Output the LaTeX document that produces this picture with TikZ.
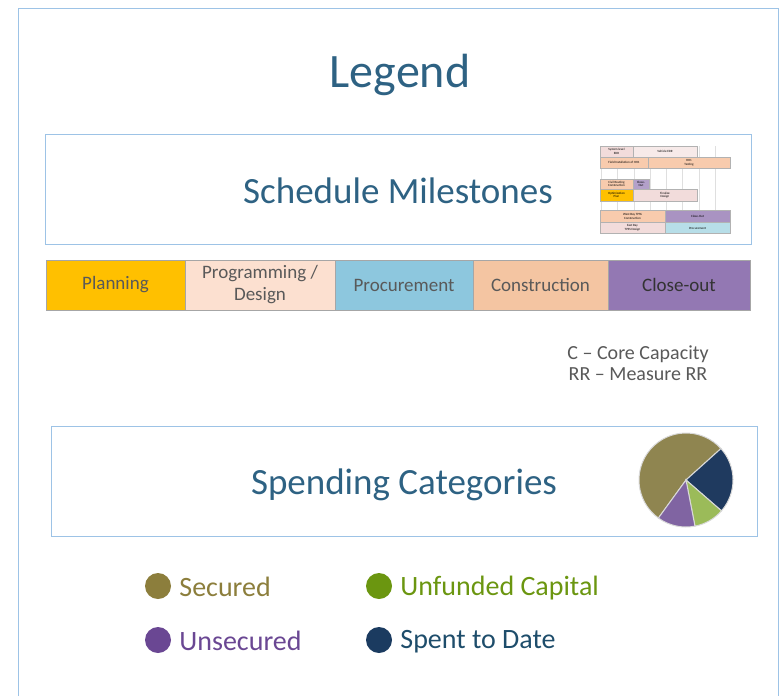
\documentclass[tikz,border=0pt]{standalone}
\usepackage{fontspec}
\setmainfont{Carlito}
\usetikzlibrary{positioning}

\definecolor{framecol}{HTML}{9DC3E6}
\definecolor{titlecol}{HTML}{2E6283}
\definecolor{phasetext}{HTML}{595959}
\definecolor{planning}{HTML}{FFC000}
\definecolor{design}{HTML}{FCE0D0}
\definecolor{procure}{HTML}{8DC7DE}
\definecolor{construct}{HTML}{F4C5A2}
\definecolor{closeout}{HTML}{9378B3}
\definecolor{secured}{HTML}{8C7E3C}
\definecolor{unfunded}{HTML}{6B9610}
\definecolor{unsecured}{HTML}{6A4793}
\definecolor{spent}{HTML}{1B3B60}
\definecolor{spenttext}{HTML}{1E4D6B}
\definecolor{pieolive}{HTML}{8F8550}
\definecolor{pienavy}{HTML}{1F3A5F}
\definecolor{piegreen}{HTML}{9BBB59}
\definecolor{piepurple}{HTML}{8064A2}
\definecolor{thumbpeach}{HTML}{F8CBAD}
\definecolor{thumbpink}{HTML}{F2DCDB}
\definecolor{thumbcyan}{HTML}{B7DEE8}

\begin{document}
\begin{tikzpicture}[x=1pt, y=-1pt,
    phase/.style={draw=gray!70, minimum width=#1, minimum height=50pt,
        inner sep=0pt, font=\fontsize{19}{21}\selectfont, text=phasetext, align=center},
    bigbox/.style={draw=framecol, line width=1pt, minimum height=110pt, inner sep=0pt},
    thumbcell/.style={draw=gray!60, line width=0.3pt, inner sep=0pt, align=center,
        font=\fontsize{3.2}{3.6}\selectfont},
    dot/.style={circle, fill=#1, minimum size=26pt, inner sep=0pt},
    item/.style={anchor=west, font=\fontsize{28}{30}\selectfont, inner sep=0pt}]
    % \draw[help lines, step=50] (0,0) grid (783,696);
    \useasboundingbox (0,0) rectangle (783,696);

    \draw[framecol, line width=1pt] (18,696) -- (18,8) -- (778,8) -- (778,696);
    \node[text=titlecol, font=\fontsize{48}{50}\selectfont] (legend) at (400,75) {Legend};

    % schedule milestones
    \node[bigbox, minimum width=706pt] (sched) at (398,189) {};
    \node[text=titlecol, font=\fontsize{37}{40}\selectfont] (schedtxt) at (398,191) {Schedule Milestones};

    \draw[gray!25, line width=0.3pt] (600,146) grid[step=16.25] (730,234);
    \node[thumbcell, fill=thumbpink, minimum width=33pt, minimum height=11pt] (t1) at (616.5,151.5) {System level\\EDR};
    \node[thumbcell, fill=thumbpink!60, minimum width=64pt, minimum height=11pt] (t2) at (665,151.5) {Vehicle EDR};
    \node[thumbcell, fill=thumbpeach, minimum width=48pt, minimum height=11pt] (t3) at (624,162.5) {Field Installation of HH1};
    \node[thumbcell, fill=thumbpeach, minimum width=82pt, minimum height=11pt] (t4) at (689,162.5) {HH1\\Testing};
    \node[thumbcell, fill=thumbpeach, minimum width=33pt, minimum height=10pt] (t5) at (616.5,184) {Civil Routing\\Construction};
    \node[thumbcell, fill=closeout!70, minimum width=16pt, minimum height=10pt] (t6) at (641,184) {Close-\\Out};
    \node[thumbcell, fill=planning, minimum width=33pt, minimum height=12pt] (t7) at (616.5,195) {Optimization\\Plan};
    \node[thumbcell, fill=thumbpink, minimum width=64pt, minimum height=12pt] (t8) at (665,195) {Finalize\\Design};
    \node[thumbcell, fill=thumbpeach, minimum width=65pt, minimum height=12pt] (t9) at (632.5,216.5) {West Bay TPSS\\Construction};
    \node[thumbcell, fill=closeout!80, minimum width=65pt, minimum height=12pt] (t10) at (697.5,216.5) {Close-Out};
    \node[thumbcell, fill=thumbpink, minimum width=65pt, minimum height=11pt] (t11) at (632.5,228) {East Bay\\TPSS Design};
    \node[thumbcell, fill=thumbcyan, minimum width=65pt, minimum height=11pt] (t12) at (697.5,228) {Procurement};

    % phases
    \node[phase=139pt, fill=planning] (plan) at (115.5,285) {\raisebox{-2pt}{Planning}};
    \node[phase=150pt, fill=design, font=\fontsize{19}{22}\selectfont] (prog) at (260,285) {\raisebox{-2pt}{\parbox{150pt}{\centering Programming /\\Design}}};
    \node[phase=138pt, fill=procure] (proc) at (404,285) {Procurement};
    \node[phase=135pt, fill=construct] (cons) at (540.5,285) {Construction};
    \node[phase=142pt, fill=closeout, text=black!80] (close) at (679,285) {Close-out};

    \node[text=phasetext, align=center, font=\fontsize{20}{21}\selectfont] (abbr) at (638,363)
        {C -- Core Capacity\\RR -- Measure RR};

    % spending categories
    \node[bigbox, minimum width=706pt] (spend) at (404,481.5) {};
    \node[text=titlecol, font=\fontsize{37}{40}\selectfont] (spendtxt) at (404,485) {Spending Categories};

    \begin{scope}[shift={(686,480)}, yscale=-1, draw=gray!30, line width=1pt]
        \filldraw[fill=pieolive] (0,0) -- (42:47) arc (42:234:47) -- cycle;
        \filldraw[fill=pienavy] (0,0) -- (-41:47) arc (-41:42:47) -- cycle;
        \filldraw[fill=piegreen] (0,0) -- (-79:47) arc (-79:-41:47) -- cycle;
        \filldraw[fill=piepurple] (0,0) -- (-126:47) arc (-126:-79:47) -- cycle;
    \end{scope}

    % legend items
    \node[dot=secured] (secdot) at (158,586) {};
    \node[item, text=secured, right=8pt of secdot, yshift=-1pt] (sec) {Secured};
    \node[dot=unsecured] (unsdot) at (158,640) {};
    \node[item, text=unsecured, right=8pt of unsdot, yshift=-1pt] (uns) {Unsecured};
    \node[dot=unfunded] (unfdot) at (379,586) {};
    \node[item, text=unfunded, right=8pt of unfdot, yshift=-2pt] (unf) {Unfunded Capital};
    \node[dot=spent] (spdot) at (379,640) {};
    \node[item, text=spenttext, right=8pt of spdot, yshift=-2pt] (spt) {Spent to Date};
\end{tikzpicture}
\end{document}
